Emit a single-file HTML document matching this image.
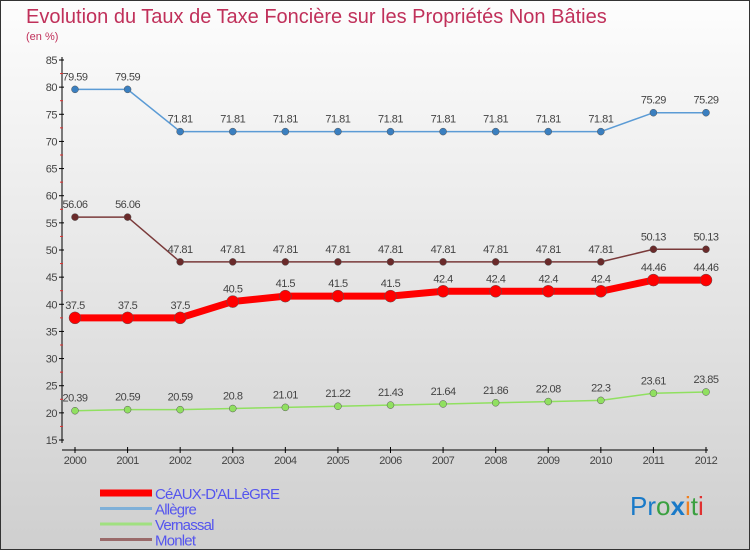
<!DOCTYPE html>
<html><head><meta charset="utf-8"><style>
body{margin:0}
#c{width:750px;height:550px;position:relative;background:linear-gradient(#fdfdfd,#cfcfcf);box-sizing:border-box;border:1px solid #333;font-family:"Liberation Sans",sans-serif;overflow:hidden}
</style></head><body>
<div id="c">
<svg width="750" height="550" id="s" style="position:absolute;left:-1px;top:-1px">
<text x="26" y="23" font-size="20" fill="#c0305a">Evolution du Taux de Taxe Foncière sur les Propriétés Non Bâties</text>
<text x="26" y="40" font-size="11" fill="#c0305a">(en %)</text>
<g id="g"></g>
<text x="630" y="515" font-size="26" font-family="Liberation Sans"><tspan fill="#1a7ac8">Pr</tspan><tspan fill="#3aa040">o</tspan><tspan fill="#1a7ac8" font-weight="bold">x</tspan><tspan fill="#f08020">i</tspan><tspan fill="#3aa040">t</tspan><tspan fill="#e03030">i</tspan></text>
</svg>
</div>
<script>
const years=[2000,2001,2002,2003,2004,2005,2006,2007,2008,2009,2010,2011,2012];
const ceaux=[37.5,37.5,37.5,40.5,41.5,41.5,41.5,42.4,42.4,42.4,42.4,44.46,44.46];
const allegre=[79.59,79.59,71.81,71.81,71.81,71.81,71.81,71.81,71.81,71.81,71.81,75.29,75.29];
const vernassal=[20.39,20.59,20.59,20.8,21.01,21.22,21.43,21.64,21.86,22.08,22.3,23.61,23.85];
const monlet=[56.06,56.06,47.81,47.81,47.81,47.81,47.81,47.81,47.81,47.81,47.81,50.13,50.13];
const yTicks=[15,20,25,30,35,40,45,50,55,60,65,70,75,80,85];
const ceauxLabels=["37.5","37.5","37.5","40.5","41.5","41.5","41.5","42.4","42.4","42.4","42.4","44.46","44.46"];
const allegreLabels=["79.59","79.59","71.81","71.81","71.81","71.81","71.81","71.81","71.81","71.81","71.81","75.29","75.29"];
const vernassalLabels=["20.39","20.59","20.59","20.8","21.01","21.22","21.43","21.64","21.86","22.08","22.3","23.61","23.85"];
const monletLabels=["56.06","56.06","47.81","47.81","47.81","47.81","47.81","47.81","47.81","47.81","47.81","50.13","50.13"];
const X=i=>75+i*(706-75)/12;
const Y=v=>60+(85-v)*(440-60)/70;
const g=document.getElementById('g');const NS='http://www.w3.org/2000/svg';
function el(t,a,p){const e=document.createElementNS(NS,t);for(const k in a)e.setAttribute(k,a[k]);(p||g).appendChild(e);return e;}
let e;
e=el('line',{x1:62,y1:57,x2:62,y2:443,stroke:'#000'});


e=el('line',{x1:62,y1:450,x2:708,y2:450,stroke:'#000'});


yTicks.forEach(v=>{
 el('line',{x1:59,y1:Y(v),x2:64,y2:Y(v),stroke:'#000'});
 if(v<85){el('line',{x1:60,y1:Y(v+2.5),x2:63,y2:Y(v+2.5),stroke:'#e03030'});}
 e=el('text',{x:57,y:Y(v)+4,'font-size':11,'text-anchor':'end',fill:'#444','letter-spacing':'-0.5'});e.textContent=v;
 
 
});
years.forEach((y,i)=>{
 el('line',{x1:X(i),y1:447,x2:X(i),y2:453,stroke:'#000'});
 e=el('text',{x:X(i),y:464,'font-size':11,'text-anchor':'middle',fill:'#444','letter-spacing':'-0.5'});e.textContent=y;
 
 
});
function series(vals,labels,color,w,r,name,dotColor){
 e=el('polyline',{points:vals.map((v,i)=>X(i)+','+Y(v)).join(' '),fill:'none',stroke:color,'stroke-width':w});
 
 
 vals.forEach((v,i)=>{
  e=el('circle',{cx:X(i),cy:Y(v),r:r,fill:dotColor,stroke:'#555','stroke-width':0.5});
  
  
  e=el('text',{x:X(i),y:Y(v)-9,'font-size':11,'text-anchor':'middle',fill:'#444','letter-spacing':'-0.5'});e.textContent=labels[i];
  
  
 });
}
series(allegre,allegreLabels,'#5b9bd5',1.5,3.5,'allegre','#3a7fc0');
series(monlet,monletLabels,'#7a3a3a',1.5,3.5,'monlet','#6a2a2a');
series(vernassal,vernassalLabels,'#90e060',1.5,3.5,'vernassal','#90e060');
series(ceaux,ceauxLabels,'#ff0000',7,6,'ceaux','#ff0000');
const leg=[['CéAUX-D\'ALLèGRE','#ff0000',7],['Allègre','#7fb0d8',3],['Vernassal','#a0e080',3],['Monlet','#9a6a6a',3]];
leg.forEach((l,i)=>{
 const y=493+i*15.5;
 e=el('line',{x1:100,y1:y,x2:152,y2:y,stroke:l[1],'stroke-width':l[2]});
 
 
 e=el('text',{x:155,y:y+6,'font-size':15,fill:'#5555ee','letter-spacing':'-0.8'});e.textContent=l[0];
 
 
});
</script>
</body></html>
